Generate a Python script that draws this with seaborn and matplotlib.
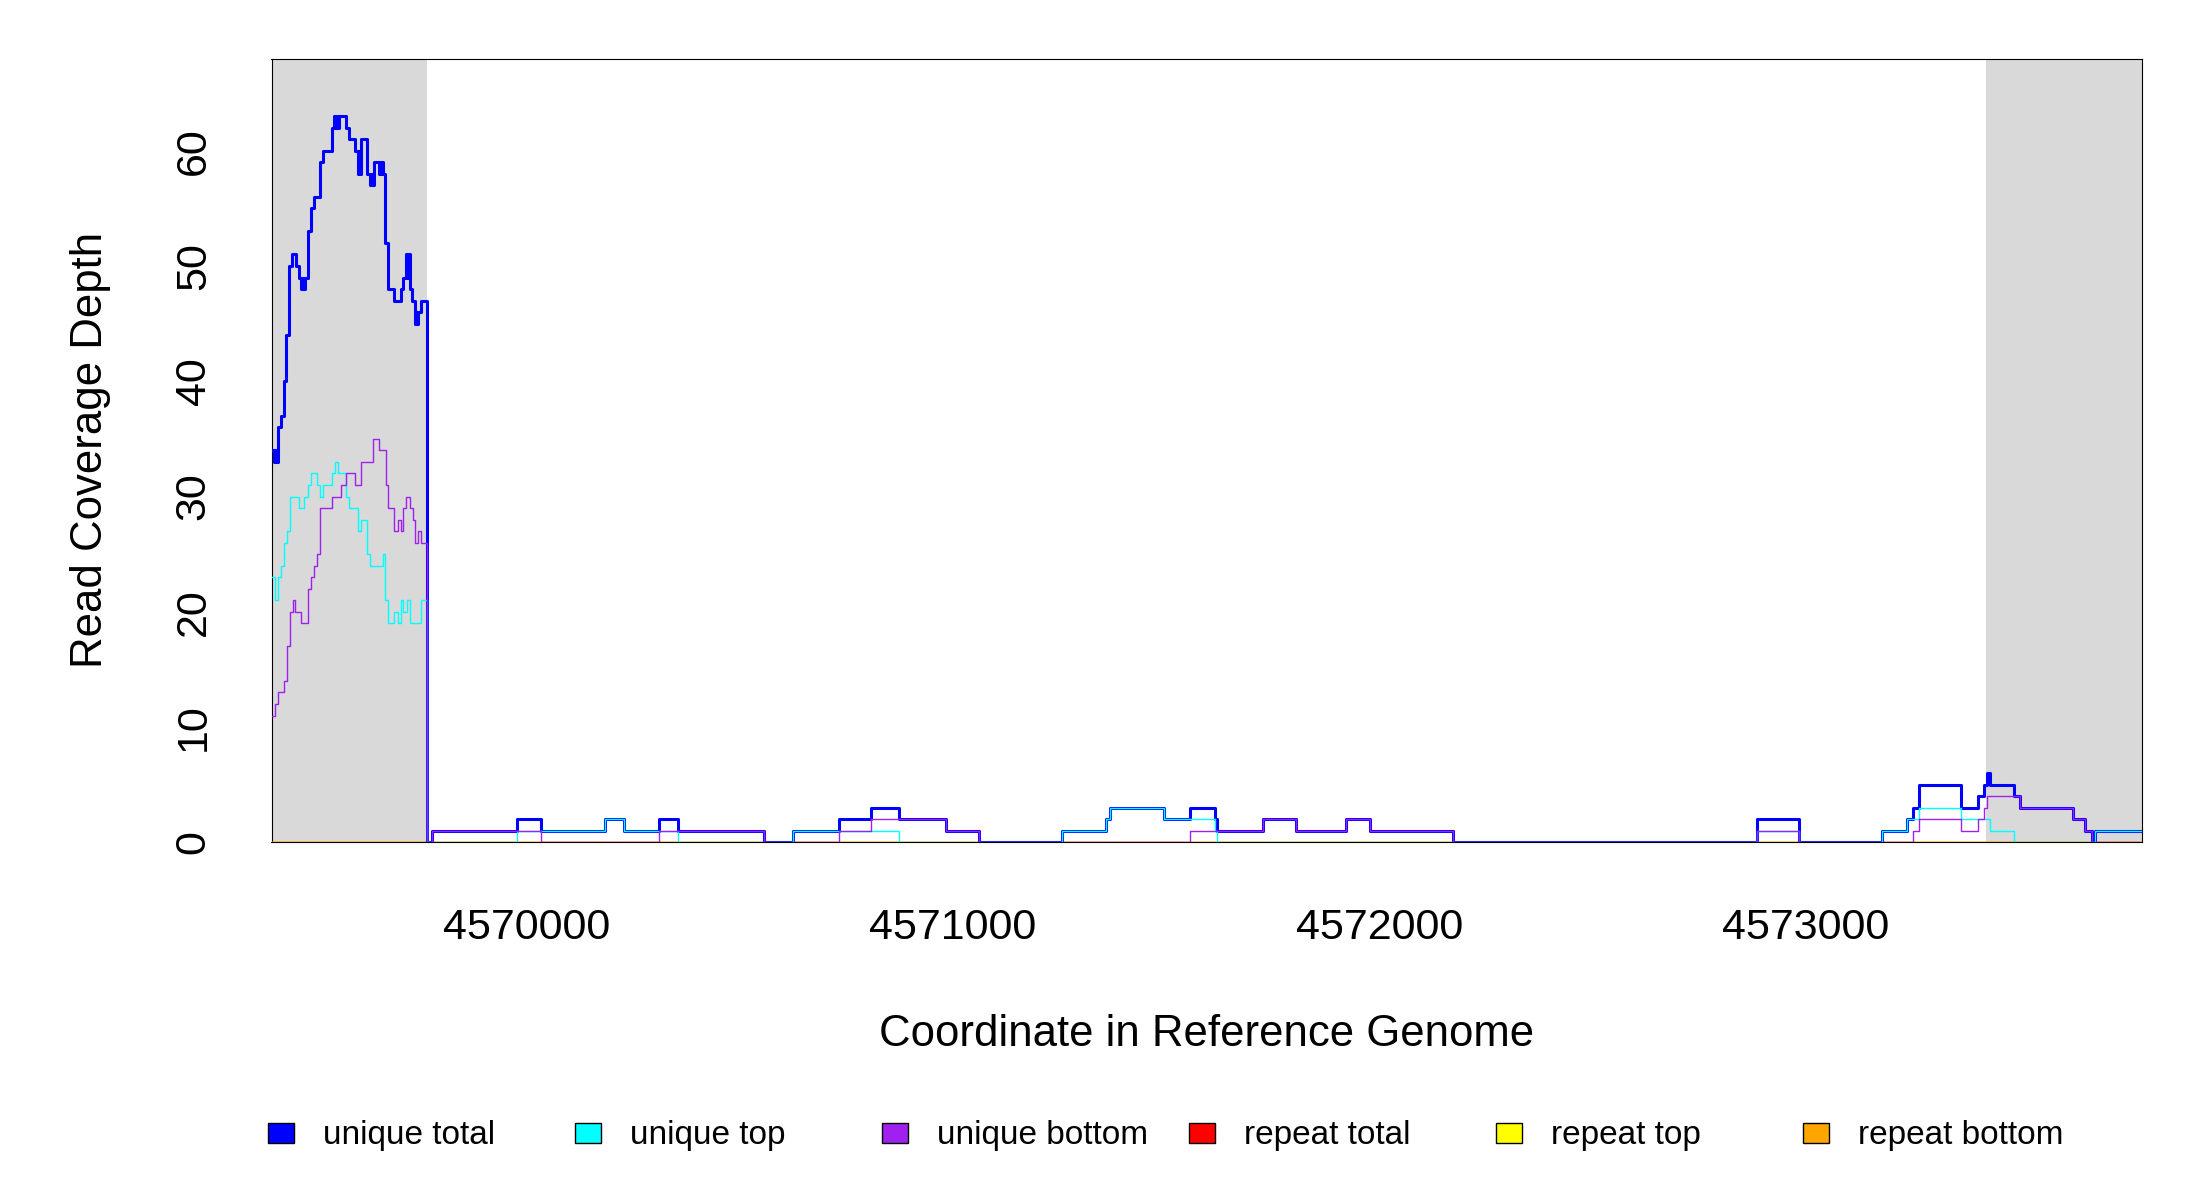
import matplotlib
matplotlib.use("Agg")
import matplotlib.pyplot as plt
import seaborn as sns
from matplotlib.patches import Rectangle

# ---------------- data ----------------
x_range = [4569400, 4573790]
left_flank = [4569400, 4569765]
right_flank = [4573425, 4573790]

x_ticks = [4570000, 4571000, 4572000, 4573000]
x_tick_labels = ["4570000", "4571000", "4572000", "4573000"]
y_ticks = [0, 10, 20, 30, 40, 50, 60]

# unique total (step starts, values)
total_pos = [4569400, 4569406, 4569409, 4569412, 4569416, 4569422, 4569429, 4569435, 4569441, 4569449,
             4569458, 4569464, 4569470, 4569473, 4569475, 4569478, 4569485, 4569492, 4569499, 4569513,
             4569520, 4569541, 4569547, 4569550, 4569553, 4569556, 4569558, 4569576, 4569582, 4569597,
             4569602, 4569605, 4569608, 4569610, 4569625, 4569631, 4569634, 4569636, 4569641, 4569652,
             4569655, 4569657, 4569659, 4569661, 4569666, 4569674, 4569688, 4569704, 4569709, 4569715,
             4569717, 4569719, 4569721, 4569722, 4569725, 4569730, 4569736, 4569739, 4569741, 4569743,
             4569752, 4569765, 4569776, 4569976, 4570032, 4570184, 4570227, 4570310, 4570355, 4570557,
             4570625, 4570731, 4570807, 4570872, 4570984, 4571061, 4571256, 4571360, 4571368, 4571496,
             4571557, 4571614, 4571620, 4571727, 4571805, 4571922, 4571978, 4572174, 4572887, 4572986,
             4573180, 4573240, 4573252, 4573267, 4573366, 4573406, 4573419, 4573427, 4573435, 4573491,
             4573505, 4573629, 4573658, 4573674, 4573680]
total_val = [34, 33, 34, 33, 36, 37, 40, 44, 50, 51,
             50, 49, 48, 49, 48, 49, 53, 55, 56, 59,
             60, 62, 63, 62, 63, 62, 63, 62, 61, 60,
             58, 60, 58, 61, 58, 57, 58, 57, 59, 58,
             59, 58, 59, 58, 52, 48, 47, 48, 49, 51,
             49, 51, 49, 51, 48, 47, 45, 46, 45, 46,
             47, 0, 1, 2, 1, 2, 1, 2, 1, 0,
             1, 2, 3, 2, 1, 0, 1, 2, 3, 2,
             3, 2, 1, 2, 1, 2, 1, 0, 2, 0,
             1, 2, 3, 5, 3, 4, 5, 6, 5, 4,
             3, 2, 1, 0, 1]

# unique top
top_pos = [4569400, 4569408, 4569416, 4569422, 4569429, 4569437, 4569443, 4569464, 4569477, 4569486,
           4569492, 4569506, 4569513, 4569520, 4569541, 4569549, 4569555, 4569576, 4569582, 4569603,
           4569611, 4569625, 4569631, 4569661, 4569666, 4569674, 4569688, 4569696, 4569703, 4569709,
           4569717, 4569724, 4569751, 4569765, 4569976, 4570184, 4570227, 4570355, 4570625, 4570872,
           4571256, 4571360, 4571368, 4571496, 4571614, 4571620, 4572887, 4572986, 4573180, 4573240,
           4573267, 4573366, 4573435, 4573491, 4573680]
top_val = [23, 21, 23, 24, 26, 27, 30, 29, 30, 31,
           32, 31, 30, 31, 32, 33, 32, 30, 29, 27,
           28, 25, 24, 25, 21, 19, 20, 19, 21, 20,
           21, 19, 21, 0, 1, 2, 1, 0, 1, 0,
           1, 2, 3, 2, 1, 0, 1, 0, 1, 2,
           3, 2, 1, 0, 1]

# unique bottom
bottom_pos = [4569400, 4569408, 4569416, 4569429, 4569437, 4569443, 4569451, 4569456, 4569470, 4569486,
              4569492, 4569500, 4569506, 4569513, 4569541, 4569563, 4569576, 4569597, 4569611, 4569639,
              4569653, 4569668, 4569674, 4569688, 4569696, 4569703, 4569709, 4569715, 4569724, 4569731,
              4569737, 4569744, 4569751, 4569765, 4569776, 4570032, 4570310, 4570557, 4570731, 4570807,
              4570984, 4571061, 4571557, 4571727, 4571805, 4571922, 4571978, 4572174, 4572887, 4572986,
              4573252, 4573267, 4573366, 4573406, 4573419, 4573427, 4573505, 4573629, 4573658, 4573674]
bottom_val = [11, 12, 13, 14, 17, 20, 21, 20, 19, 22,
              23, 24, 25, 29, 30, 31, 32, 31, 33, 35,
              34, 31, 29, 27, 28, 27, 29, 30, 29, 28,
              26, 27, 26, 0, 1, 0, 1, 0, 1, 2,
              1, 0, 1, 2, 1, 2, 1, 0, 1, 0,
              1, 2, 1, 2, 3, 4, 3, 2, 1, 0]

# repeat series (zero over the whole window)
repeat_pos = [4569400, 4573790]
repeat_total = [0, 0]
repeat_top = [0, 0]
repeat_bottom = [0, 0]

series_names = ["unique total", "unique top", "unique bottom",
                "repeat total", "repeat top", "repeat bottom"]
series_colors = ["#0000FF", "#00FFFF", "#A020F0", "#FF0000", "#FFFF00", "#FFA500"]

# ---------------- figure ----------------
sns.set_theme(style="white")
plt.rcParams["font.family"] = ["Liberation Sans", "DejaVu Sans"]

W, H = 2200, 1200
fig = plt.figure(figsize=(W / 100, H / 100), dpi=100)
ax_l, ax_r, ax_t, ax_b = 271.5, 2141.7, 58.5, 842.3
ax = fig.add_axes([ax_l / W, 1 - ax_b / H, (ax_r - ax_l) / W, (ax_b - ax_t) / H])

ax.axvspan(left_flank[0], left_flank[1], color="#D9D9D9", lw=0, zorder=0)
ax.axvspan(right_flank[0], right_flank[1], color="#D9D9D9", lw=0, zorder=0)


def step_line(pos, val, color, lw, z):
    xs = list(pos) + [x_range[1]]
    ys = list(val) + [val[-1]]
    sns.lineplot(x=xs, y=ys, color=color, linewidth=lw, drawstyle="steps-post",
                 estimator=None, sort=False, legend=False, ax=ax, zorder=z)


step_line(repeat_pos, repeat_total, series_colors[3], 1.0, 3)
step_line(repeat_pos, repeat_top, series_colors[4], 1.0, 3.1)
step_line(repeat_pos, repeat_bottom, series_colors[5], 1.0, 3.2)
step_line(total_pos, total_val, series_colors[0], 2.2, 4)
step_line(top_pos, top_val, series_colors[1], 1.0, 5)
step_line(bottom_pos, bottom_val, series_colors[2], 1.0, 6)

ax.set_xlim(x_range)
ax.set_ylim(0, 68)
ax.set_xticks(x_ticks)
ax.set_xticklabels(x_tick_labels)
ax.set_yticks(y_ticks)
ax.set_yticklabels([str(v) for v in y_ticks], rotation=90, va="center")
ax.set_xlabel("")
ax.set_ylabel("")
ax.tick_params(axis="both", direction="out", length=19.5, width=1.0, color="black",
               labelsize=31, labelcolor="black")
ax.tick_params(axis="x", pad=27.5)
ax.tick_params(axis="y", pad=22)
for s in ax.spines.values():
    s.set_visible(True)
    s.set_color("black")
    s.set_linewidth(0.8)
    s.set_zorder(2)
ax.grid(False)

fig.text(91 / W, 1 - 450 / H, "Read Coverage Depth", rotation=90, ha="center", va="center",
         fontsize=31.5, color="black")
fig.text(1206.6 / W, 1 - 1035 / H, "Coordinate in Reference Genome", ha="center", va="center",
         fontsize=31.5, color="black")

# legend (one row)
leg_x0, leg_step = 268, 307
for i, (name, col) in enumerate(zip(series_names, series_colors)):
    lx = leg_x0 + i * leg_step
    fig.patches.append(Rectangle((lx / W, 1 - 1143.3 / H), 25.7 / W, 20.7 / H,
                                 transform=fig.transFigure, facecolor=col,
                                 edgecolor="black", linewidth=1.0))
    fig.text((lx + 55) / W, 1 - 1144.3 / H, name, ha="left", va="baseline",
             fontsize=24, color="black")

fig.savefig("out.png", dpi=100, facecolor="white")
